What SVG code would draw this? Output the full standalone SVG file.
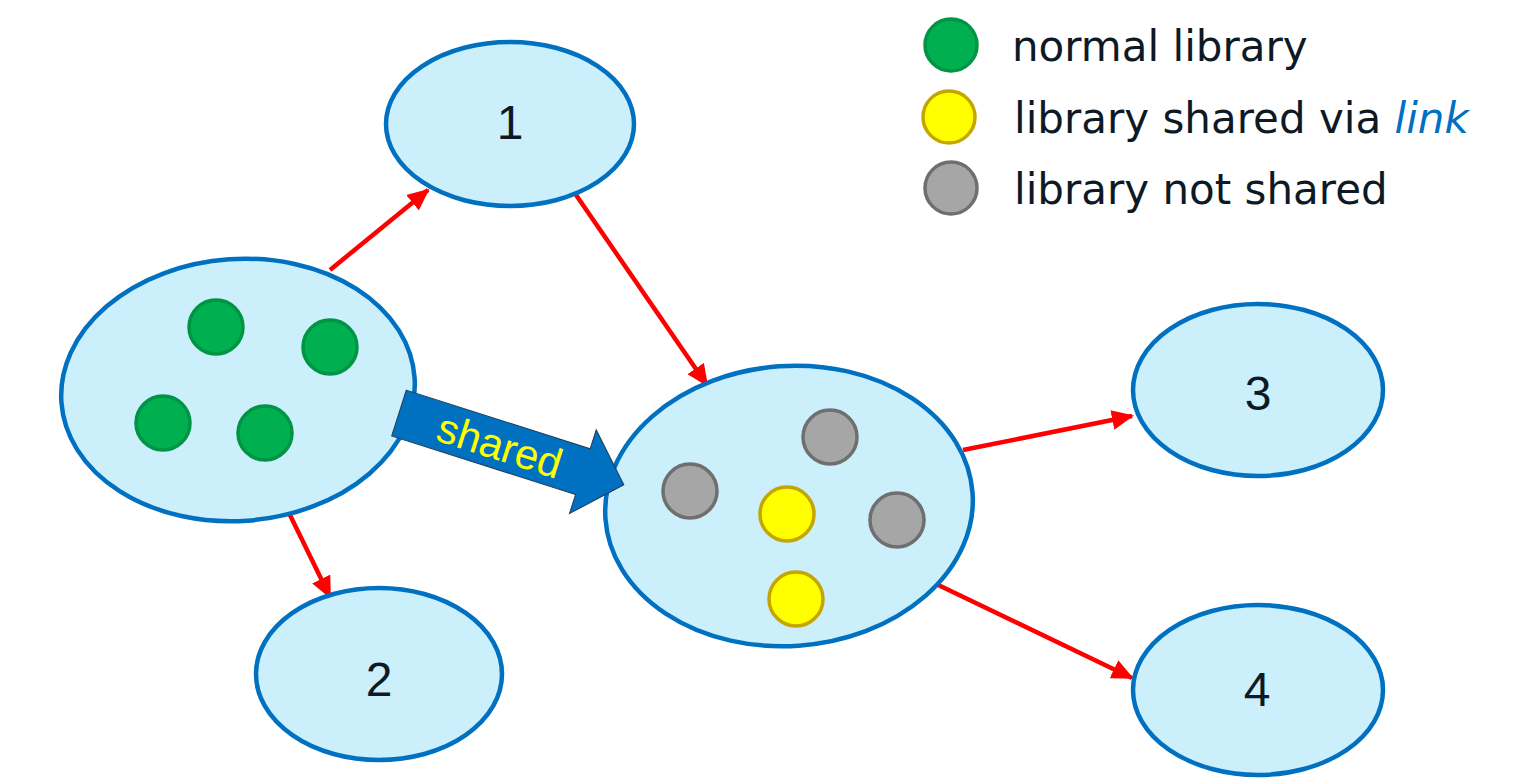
<svg xmlns="http://www.w3.org/2000/svg" width="1525" height="784" viewBox="0 0 1525 784">
<style>
.node{fill:#CCEFFC;stroke:#0070C0;stroke-width:4.5}
.num{font-family:"Liberation Sans",Arial,sans-serif;font-size:48px;fill:#0D1A26;text-anchor:middle}
.green{fill:#00B050;stroke:#009445;stroke-width:3.5}
.gray{fill:#A6A6A6;stroke:#6F6F6F;stroke-width:3.5}
.yellow{fill:#FFFF00;stroke:#C4A600;stroke-width:3.5}
.leg{font-family:"DejaVu Sans",Verdana,sans-serif;font-size:42px;fill:#0D1A26}
.edge{stroke:#FF0000;stroke-width:4.5;fill:none;marker-end:url(#ah)}
</style>
<defs>
<marker id="ah" markerUnits="userSpaceOnUse" markerWidth="22" markerHeight="20" refX="20" refY="10" orient="auto">
<path d="M0,0 L22,10 L0,20 Z" fill="#FF0000"/>
</marker>
</defs>
<g id="connectors">
<line class="edge" x1="330" y1="270" x2="428" y2="190"/>
<line class="edge" x1="574" y1="192" x2="707" y2="385"/>
<line class="edge" x1="290" y1="515" x2="330" y2="597"/>
<line class="edge" x1="963" y1="450" x2="1132" y2="416"/>
<line class="edge" x1="932" y1="582" x2="1132" y2="678"/>
</g>
<g id="node1">
<ellipse class="node" cx="510" cy="124" rx="124" ry="82"/>
<text class="num" x="510" y="139">1</text>
</g>
<g id="node2">
<ellipse class="node" cx="379" cy="674" rx="123" ry="86"/>
<text class="num" x="379" y="696">2</text>
</g>
<g id="node3">
<ellipse class="node" cx="1258" cy="390" rx="125" ry="86"/>
<text class="num" x="1258" y="410">3</text>
</g>
<g id="node4">
<ellipse class="node" cx="1258" cy="690" rx="125" ry="85"/>
<text class="num" x="1257" y="706">4</text>
</g>
<g id="source">
<ellipse class="node" cx="238" cy="390" rx="177" ry="131" transform="rotate(-4 238 390)"/>
<circle class="green" cx="216" cy="327" r="27"/>
<circle class="green" cx="330" cy="347" r="27"/>
<circle class="green" cx="163" cy="423" r="27"/>
<circle class="green" cx="265" cy="433" r="27"/>
</g>
<g id="target">
<ellipse class="node" cx="789" cy="506" rx="184" ry="140" transform="rotate(-4 789 506)"/>
<circle class="gray" cx="830" cy="437" r="27"/>
<circle class="gray" cx="690" cy="491" r="27"/>
<circle class="gray" cx="897" cy="520" r="27"/>
<circle class="yellow" cx="787" cy="514" r="27"/>
<circle class="yellow" cx="796" cy="599" r="27"/>
</g>
<g id="shared" transform="translate(399 413) rotate(17.7)">
<path d="M0,-24 L193,-24 L193,-44 L236,0 L193,44 L193,24 L0,24 Z" fill="#0070C0" stroke="#1F3A55" stroke-width="1"/>
<text x="106" y="15" font-family="'Liberation Sans',Arial,sans-serif" font-size="42" fill="#FFFF00" text-anchor="middle">shared</text>
</g>
<g id="legend">
<circle class="green" cx="951" cy="45" r="26"/>
<circle class="yellow" cx="949" cy="117" r="26"/>
<circle class="gray" cx="951" cy="188" r="26"/>
<text class="leg" x="1012" y="61">normal library</text>
<text class="leg" x="1014" y="133">library shared via <tspan fill="#0070C0" font-style="italic">link</tspan></text>
<text class="leg" x="1014" y="204">library not shared</text>
</g>
</svg>
